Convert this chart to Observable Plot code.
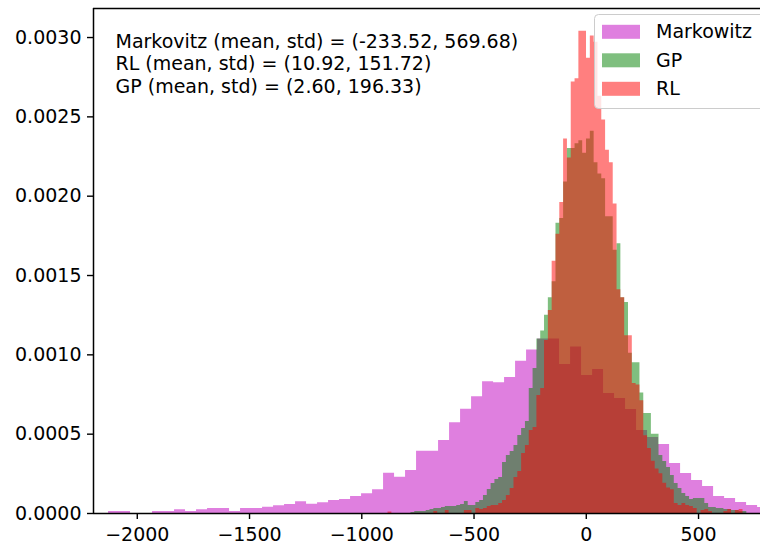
<!DOCTYPE html>
<html><head><meta charset="utf-8">
<script src="https://cdn.jsdelivr.net/npm/d3@7"></script>
<script src="https://cdn.jsdelivr.net/npm/@observablehq/plot@0.6"></script>
<style>
body{margin:0;background:#fff;}
#chart{position:relative;width:760px;height:547px;overflow:hidden;}
</style>
</head><body><div id="chart"></div>
<script>
const seriesNames = ["Markowitz", "GP", "RL"];
const seriesColors = ["#bf00bf", "#008000", "#ff0000"];

const markowitzStart = -2128, markowitzBinWidth = 49;
const markowitzDensity = [
  0.0000126, 0.0000126, 0, 0, 0.0000126, 0.0000126, 0.0000233, 0.0000126, 0.0000233, 0.0000315,
  0.0000315, 0.0000126, 0.0000315, 0.0000315, 0.0000397, 0.0000485, 0.0000567, 0.0000737, 0.0000586, 0.0000674,
  0.0000819, 0.0000882, 0.000107, 0.000124, 0.000149, 0.000254, 0.000229, 0.000271, 0.000393, 0.000393,
  0.00046, 0.000572, 0.000657, 0.000736, 0.00083, 0.000824, 0.000857, 0.00096, 0.00103, 0.0011,
  0.0011, 0.000939, 0.00105, 0.00087, 0.000908, 0.000756, 0.000725, 0.000656, 0.000523, 0.000479,
  0.000435, 0.000315, 0.000252, 0.000208, 0.00017, 0.000107, 0.0000945, 0.0000693, 0.0000504, 0.0000378
];

const gpStart = -883, gpBinWidth = 17;
const gpDensity = [
  0, 0, 0, 0, 0, 0,
  0.0000063, 0.0000126, 0.0000126, 0.0000126,
  0.0000189, 0.0000252, 0.0000315, 0.0000315, 0.0000378, 0.0000441, 0.0000441, 0.0000441, 0.0000504, 0.0000567,
  0.0000756, 0.0000504, 0.0000504, 0.0000693, 0.0000819, 0.000114, 0.000151, 0.000189, 0.000214, 0.000227,
  0.000322, 0.000366, 0.000391, 0.000429, 0.000492, 0.000536, 0.00058, 0.000788, 0.000914, 0.0011,
  0.00115, 0.00125, 0.00136, 0.00146, 0.00183, 0.00186, 0.00209, 0.0023, 0.0023, 0.00233,
  0.00235, 0.00227, 0.00236, 0.00241, 0.00221, 0.00214, 0.00211, 0.00187, 0.00187, 0.00166,
  0.0017, 0.00136, 0.00133, 0.00101, 0.00095, 0.00095, 0.00076, 0.00063, 0.00063, 0.0005,
  0.0005, 0.000366, 0.000328, 0.00029, 0.00024, 0.000189, 0.000158, 0.000126, 0.000107, 0.000088,
  0.000095, 0.000095, 0.000095, 0.000063, 0.000038, 0.000038, 0.000032, 0.000032, 0.000025, 0.000025,
  0.000019, 0.000019, 0.000013, 0.000013
];

const rlStart = -883, rlBinWidth = 17;
const rlDensity = [
  0.0000095, 0, 0, 0, 0, 0, 0, 0, 0, 0, 0, 0,
  0.0000126, 0, 0, 0.0000189, 0, 0, 0, 0,
  0.0000189, 0.0000189, 0, 0.0000315, 0.0000252, 0.0000315, 0.0000441, 0.0000504, 0.0000504, 0.000063,
  0.000082, 0.000113, 0.000158, 0.000227, 0.000265, 0.000378, 0.000429, 0.000523, 0.000542, 0.000744,
  0.000788, 0.00109, 0.00128, 0.00159, 0.00176, 0.00196, 0.00236, 0.00224, 0.00272, 0.00274,
  0.00304, 0.00304, 0.00287, 0.00301, 0.00297, 0.00263, 0.00248, 0.00229, 0.00221, 0.00195,
  0.00141, 0.00136, 0.00112, 0.00112, 0.00082, 0.00081, 0.00071, 0.00049, 0.00041, 0.00033,
  0.00028, 0.00025, 0.00019, 0.00016, 0.00015, 0.000063, 0.00005, 0.000063, 0.00005, 0.000044,
  0.000032, 0, 0.000019, 0.000025, 0.000013, 0, 0, 0, 0.000013, 0.000025,
  0, 0.000019, 0.000025
];

const statLines = [
  "Markovitz (mean, std) = (-233.52, 569.68)",
  "RL (mean, std) = (10.92, 151.72)",
  "GP (mean, std) = (2.60, 196.33)"
];

const xTicks = [-2000, -1500, -1000, -500, 0, 500];
const yTicks = [0, 0.0005, 0.001, 0.0015, 0.002, 0.0025, 0.003];
const xDomain = [-2195, 776];
const yDomain = [0, 0.003183];

function stepPoints(start, width, dens) {
  const pts = dens.map((d, i) => ({x: start + i * width, y: d}));
  pts.push({x: start + dens.length * width, y: dens[dens.length - 1]});
  return pts;
}

const series = [
  stepPoints(markowitzStart, markowitzBinWidth, markowitzDensity),
  stepPoints(gpStart, gpBinWidth, gpDensity),
  stepPoints(rlStart, rlBinWidth, rlDensity)
];

const fmtX = d3.format("d");
const fmtY = d3.format(".4f");

const svg = Plot.plot({
  width: 760, height: 547,
  marginLeft: 93, marginRight: 0, marginTop: 8, marginBottom: 34,
  style: {fontFamily: "DejaVu Sans", fontSize: "19px", background: "white", color: "black"},
  x: {domain: xDomain},
  y: {domain: yDomain},
  marks: [
    ...series.map((pts, i) => Plot.areaY(pts, {x: "x", y: "y", curve: "step-after", fill: seriesColors[i], fillOpacity: 0.5, clip: true})),
    Plot.ruleX([xDomain[0]], {stroke: "black", strokeWidth: 1.5}),
    Plot.ruleY(yDomain, {stroke: "black", strokeWidth: 1.5}),
    Plot.axisX(xTicks, {tickSize: 6, tickPadding: 8, tickFormat: fmtX, label: null, strokeWidth: 1.4}),
    Plot.axisY(yTicks, {tickSize: 6, tickPadding: 6, tickFormat: fmtY, label: null, strokeWidth: 1.4}),
    Plot.text([statLines.join("\n")], {frameAnchor: "top-left", dx: 22, dy: 23, lineAnchor: "top", lineHeight: 1.2, textAnchor: "start", fill: "black"})
  ]
});

document.getElementById("chart").appendChild(svg);

// Legend (matplotlib-style, upper right)
const sel = d3.select(svg);
const lg = sel.append("g").attr("font-family", "DejaVu Sans").attr("font-size", 19).attr("text-anchor", "start");
lg.append("rect").attr("x", 594.5).attr("y", 14.5).attr("width", 200).attr("height", 94)
  .attr("rx", 4).attr("fill", "white").attr("fill-opacity", 0.8).attr("stroke", "#cccccc");
seriesNames.forEach((name, i) => {
  const cy = 31.8 + i * 28.5;
  lg.append("rect").attr("x", 602).attr("y", cy - 7).attr("width", 38).attr("height", 14)
    .attr("fill", seriesColors[i]).attr("fill-opacity", 0.5);
  lg.append("text").attr("x", 656).attr("y", cy).attr("dy", "0.35em").attr("text-anchor", "start")
    .attr("fill", "black").text(name);
});
</script>
</body></html>
